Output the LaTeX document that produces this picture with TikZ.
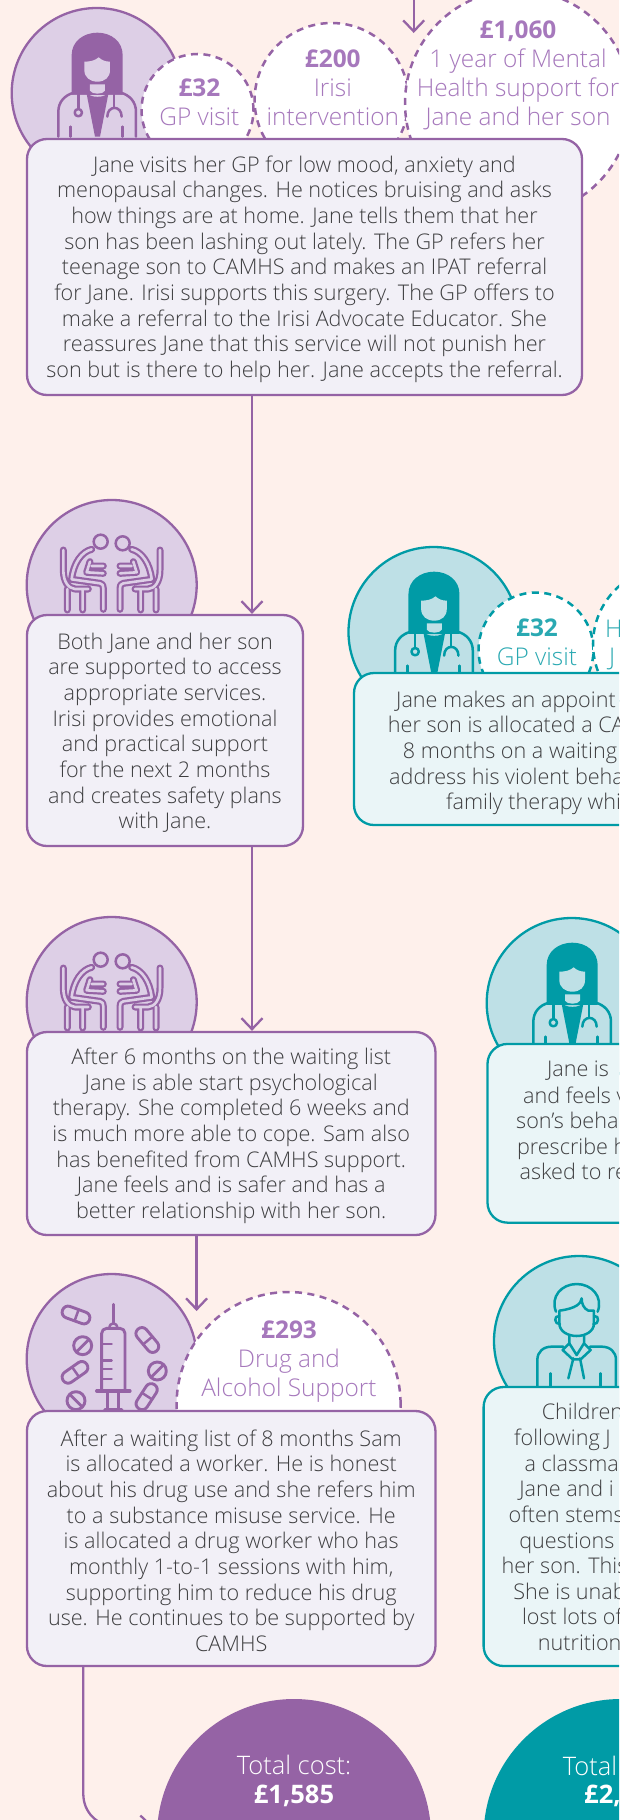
\documentclass[tikz,border=0pt]{standalone}
\usepackage{fontspec}
\setmainfont{Open Sans Light}[BoldFont={Open Sans Bold}]
\usetikzlibrary{arrows.meta}
\definecolor{bgc}{HTML}{FEF0EB}
\definecolor{pur}{HTML}{9563A5}
\definecolor{purL}{HTML}{DDCFE6}
\definecolor{purB}{HTML}{F2F0F7}
\definecolor{purT}{HTML}{A678BC}
\definecolor{tea}{HTML}{009BA6}
\definecolor{teaL}{HTML}{BEE0E6}
\definecolor{teaB}{HTML}{EAF5F7}
\definecolor{teaT}{HTML}{2AA9B2}
\definecolor{txt}{HTML}{3E3E40}
\newcommand{\btxt}{\fontsize{21.6}{25.67}\selectfont}
\newcommand{\ctxt}{\fontsize{24.4}{29}\selectfont}
\newcommand{\ttot}{\fontsize{25.5}{28.5}\selectfont}
\newcommand{\upr}{\rule{0pt}{21pt}}
\tikzset{
  lw/.style={line width=2.3pt},
  disc/.style={circle,draw,lw,minimum size=170pt,inner sep=0pt},
  bubble/.style={circle,draw,line width=2.5pt,fill=white,dash pattern=on 7pt off 5.5pt,inner sep=0pt},
  story/.style={rectangle,rounded corners=20pt,draw,lw,text=txt,font=\btxt,align=center,inner sep=0pt},
  pstory/.style={story,draw=pur,fill=purB},
  tstory/.style={story,draw=tea,fill=teaB},
  ptxt/.style={text=purT,font=\ctxt,align=center,inner sep=0pt},
  ttxt/.style={text=teaT,font=\ctxt,align=center,inner sep=0pt},
  cut/.style={anchor=base west,text=txt,font=\btxt,inner sep=0pt,yshift=-1pt},
  conn/.style={draw=pur,lw,-{Straight Barb[length=11pt,width=21pt,line width=2.3pt]},line cap=round},
  total/.style={circle,minimum size=274pt,inner sep=0pt},
  ic/.style={line width=2.5pt,line cap=round,line join=round},
  icb/.style={line width=2.9pt,line cap=round,line join=round},
}
\newcommand{\doctor}[4]{%
\begin{scope}[shift={(#1,#2)},x=0.3333pt,y=-0.3333pt]
 \fill[#3] (65,225) -- (65,105) .. controls (65,65) and (100,38) .. (142,38) .. controls (184,38) and (218,65) .. (218,105) -- (218,225) -- (65,225) -- cycle;
 \fill[#4] (103,125) -- (103,150) .. controls (103,172) and (120,185) .. (142,185) .. controls (165,185) and (180,172) .. (180,150) -- (180,125) .. controls (165,125) and (155,120) .. (146,112) .. controls (135,122) and (120,125) .. (103,125) -- cycle;
 \fill[#4] (120,193) -- (165,193) -- (165,212) .. controls (160,224) and (125,224) .. (120,212) -- cycle;
 \fill[#4] (65,225) -- (112,225) -- (135,350) -- (40,350) -- (40,260) -- cycle;
 \fill[#4] (218,225) -- (172,225) -- (150,350) -- (245,350) -- (245,260) -- cycle;
 \fill[#3] (110,222) -- (120,226) .. controls (130,232) and (155,232) .. (165,226) -- (175,222) -- (150,350) -- (135,350) -- cycle;
 \draw[#3,ic] (25,350) -- (25,275) .. controls (25,245) and (45,225) .. (72,218);
 \draw[#3,ic] (258,350) -- (258,275) .. controls (258,245) and (238,225) .. (212,218);
 \draw[#3,ic] (85,218) -- (85,265);
 \draw[#3,ic] (85,278) circle (11);
 \draw[#3,ic] (192,218) -- (192,262);
 \draw[#3,ic] (172,290) .. controls (172,255) and (215,255) .. (215,290);
 \draw[#3,ic] (62,320) -- (62,350);
 \draw[#3,ic] (218,320) -- (218,350);
\end{scope}}
\newcommand{\sitter}{%
 (40,90) -- (40,150) .. controls (40,185) and (55,205) .. (75,207) -- (115,207)
 (52,207) -- (52,270) (98,207) -- (98,270)
 (125,88) .. controls (95,95) and (70,130) .. (65,178) -- (150,190) .. controls (158,192) and (160,196) .. (160,205) -- (160,268)
 (120,125) -- (110,157) -- (160,160) (125,138) -- (160,138)}
\newcommand{\pairicon}[2]{%
\begin{scope}[shift={(#1,#2)},x=0.3333pt,y=-0.3333pt]
 \foreach \c/\w in {pur/7pt,purL/2.6pt}{%
  \draw[\c,line width=\w,line cap=round,line join=round] \sitter;
  \begin{scope}[xshift=123.33pt,xscale=-1]
   \draw[\c,line width=\w,line cap=round,line join=round] \sitter;
  \end{scope}}
 \draw[pur,ic] (152,65) circle (21);
 \draw[pur,ic] (218,70) circle (21);
\end{scope}}
\newcommand{\capsule}[3]{%
 \begin{scope}[shift={(#1,#2)},rotate=#3]
  \draw[pur,icb,rounded corners=5.8pt] (-43,-18) rectangle (43,18);
  \draw[pur,ic] (2,-18) -- (2,18);
 \end{scope}}
\newcommand{\tablet}[3]{%
 \draw[pur,icb] (#1,#2) circle (27);
 \draw[pur,icb,rotate around={#3:(#1,#2)}] (#1-24,#2) -- (#1+24,#2);}
\begin{document}
\begin{tikzpicture}[x=1pt,y=-1pt]
\useasboundingbox (0,0) rectangle (619,1820);
\fill[bgc] (0,0) rectangle (619,1820);
\clip (0,0) rectangle (619,1820);

% named anchors for connectors
\coordinate (topin) at (413.7,-6);
\coordinate (topend) at (413.7,33);
\coordinate (laneA) at (252,0);
\coordinate (laneB) at (196.6,0);
\coordinate (laneBend) at (196.6,1311);
\coordinate (laneCa) at (83.3,1794);
\coordinate (laneCb) at (115,1826);
\coordinate (laneCend) at (153,1826);

% ---- section 1
\node[disc,draw=pur,fill=purL] (d1) at (96.7,93) {};
\doctor{50}{20}{pur}{purL}
\node[bubble,draw=pur,minimum size=112pt] (b1) at (197.5,110) {};
\node[bubble,draw=pur,minimum size=154pt] (b2) at (331.6,100) {};
\node[bubble,draw=pur,minimum size=226pt] (b3) at (518,103) {};
\node[ptxt] (b1t) at (199.4,102.5) {\textbf{£32}\\GP visit};
\node[ptxt] (b2t) at (332.8,88) {\textbf{£200}\\Irisi\\intervention};
\node[ptxt] (b3t) at (518,75) {\textbf{£1,060}\\1 year of Mental\\Health support for\\Jane and her son};
\node[pstory,minimum width=555pt,minimum height=256pt] (s1) at (304.5,267) {\upr Jane visits her GP for low mood, anxiety and\\menopausal changes. He notices bruising and asks\\how things are at home. Jane tells them that her\\son has been lashing out lately. The GP refers her\\teenage son to CAMHS and makes an IPAT referral\\for Jane. Irisi supports this surgery. The GP offers to\\make a referral to the Irisi Advocate Educator. She\\reassures Jane that this service will not punish her\\son but is there to help her. Jane accepts the referral.};

% ---- section 2
\node[disc,draw=pur,fill=purL] (d2) at (111.7,585) {};
\pairicon{50}{520}
\node[pstory,minimum width=276pt,minimum height=231pt] (s2) at (165,730.5) {\upr Both Jane and her son\\are supported to access\\appropriate services.\\Irisi provides emotional\\and practical support\\for the next 2 months\\and creates safety plans\\with Jane.};

\node[disc,draw=tea,fill=teaL] (d5) at (433.5,632) {};
\doctor{386.8}{559}{tea}{teaL}
\node[bubble,draw=tea,minimum size=115pt] (b5) at (536,650) {};
\node[bubble,draw=tea,minimum size=154pt] (b6) at (670,644) {};
\node[ttxt] (b5t) at (537,642.5) {\textbf{£32}\\GP visit};
\node[anchor=base west,text=teaT,font=\ctxt,inner sep=0pt] (b6a) at (605,637) {H};
\node[anchor=base west,text=teaT,font=\ctxt,inner sep=0pt] (b6b) at (609,665) {J};
\node[tstory,minimum width=400pt,minimum height=152pt] (s5) at (554,749) {};
\node[cut] (s5a) at (396,706) {Jane makes an appoint};
\node[cut] (s5b) at (387.7,731.5) {her son is allocated a CA};
\node[cut] (s5c) at (402.7,757) {8 months on a waiting};
\node[cut] (s5d) at (389,783) {address his violent beha};
\node[cut] (s5e) at (446,808.5) {family therapy whi};

% ---- section 3
\node[disc,draw=pur,fill=purL] (d3) at (111.7,1002) {};
\pairicon{50}{938}
\node[pstory,minimum width=408.5pt,minimum height=203pt] (s3) at (231.2,1133.5) {\upr After 6 months on the waiting list\\Jane is able start psychological\\therapy. She completed 6 weeks and\\is much more able to cope. Sam also\\has benefited from CAMHS support.\\Jane feels and is safer and has a\\better relationship with her son.};

\node[disc,draw=tea,fill=teaL] (d6) at (571.7,1003) {};
\doctor{525}{930}{tea}{teaL}
\node[tstory,minimum width=300pt,minimum height=178.7pt] (s6) at (637.5,1133.3) {};
\node[cut] (s6a) at (546.8,1075) {Jane is};
\node[cut] (s6b) at (523,1102) {and feels v};
\node[cut] (s6c) at (516,1127) {son’s beha};
\node[cut] (s6d) at (516.8,1153) {prescribe h};
\node[cut] (s6e) at (519.5,1178) {asked to re};

% ---- section 4
\node[disc,draw=pur,fill=purL] (d4) at (111.7,1359) {};
\begin{scope}[shift={(50,1295)},x=0.3333pt,y=-0.3333pt]
 \draw[pur,icb] (190,28) -- (190,85);
 \draw[pur,ic] (178,100) .. controls (178,80) and (202,80) .. (202,100);
 \draw[pur,icb,rounded corners=5pt] (155,288) -- (155,100) -- (225,100) -- (225,288);
 \foreach \yy in {147,197,222,252} \draw[pur,ic] (155,\yy) -- (185,\yy);
 \draw[pur,line width=3.2pt,line cap=round] (140,288) -- (240,288);
 \draw[pur,icb] (172,288) -- (172,342);
 \draw[pur,icb] (205,288) -- (205,342);
 \draw[pur,line width=3.5pt,line cap=round] (165,343) -- (215,343);
 \capsule{78}{60}{-20}
 \capsule{292}{135}{-50}
 \capsule{75}{232}{35}
 \capsule{290}{305}{57}
 \tablet{98}{152}{45}
 \tablet{322}{228}{45}
 \tablet{78}{317}{-45}
\end{scope}
\node[bubble,draw=pur,minimum size=224pt] (b4) at (288.6,1404) {};
\node[ptxt] (b4t) at (289,1362) {\textbf{£293}\\Drug and\\Alcohol Support};
\node[pstory,minimum width=408.5pt,minimum height=255pt] (s4) at (231.2,1538.5) {\upr After a waiting list of 8 months Sam\\is allocated a worker. He is honest\\about his drug use and she refers him\\to a substance misuse service. He\\is allocated a drug worker who has\\monthly 1-to-1 sessions with him,\\supporting him to reduce his drug\\use. He continues to be supported by\\CAMHS};

\node[disc,draw=tea,fill=teaL] (d7) at (579,1341) {};
\begin{scope}[shift={(520,1280)},x=0.3333pt,y=-0.3333pt]
 \begin{scope}[tea,ic]
 \draw (108,95) .. controls (90,50) and (125,12) .. (170,12) .. controls (215,12) and (250,50) .. (233,95);
 \draw (118,92) -- (118,130) .. controls (118,155) and (145,168) .. (170,168) .. controls (195,168) and (222,155) .. (222,130) -- (222,92) -- (205,92) .. controls (190,85) and (185,70) .. (185,55) .. controls (183,70) and (170,85) .. (118,92);
 \draw (118,108) .. controls (100,105) and (103,135) .. (120,132);
 \draw (222,108) .. controls (240,105) and (237,135) .. (220,132);
 \draw (148,168) -- (148,190) -- (128,210) -- (158,238) -- (182,238) -- (212,210) -- (192,190) -- (192,168);
 \draw (148,190) -- (170,225) -- (192,190);
 \draw (160,235) -- (145,295);
 \draw (180,235) -- (192,295);
 \draw (52,325) -- (52,240) .. controls (52,215) and (70,200) .. (95,200) -- (130,200);
 \draw (210,200) -- (245,200) .. controls (270,200) and (288,215) .. (288,240) -- (288,325);
 \draw (92,280) -- (92,325);
 \draw (242,280) -- (242,325);
 \end{scope}
\end{scope}
\node[tstory,minimum width=300pt,minimum height=279pt] (s7) at (633.6,1526.5) {};
\node[cut] (s7a) at (541.6,1418.7) {Children};
\node[cut] (s7b) at (514,1444.7) {following J};
\node[cut] (s7c) at (524.3,1470.4) {a classma};
\node[cut] (s7d) at (519.1,1495.8) {Jane and i};
\node[cut] (s7e) at (508.5,1521.8) {often stems};
\node[cut] (s7f) at (519.1,1547.2) {questions};
\node[cut] (s7g) at (501.4,1572.5) {her son. This};
\node[cut] (s7h) at (513.2,1598.2) {She is unab};
\node[cut] (s7i) at (521.9,1623.9) {lost lots of};
\node[cut] (s7j) at (537.7,1649.9) {nutrition};

% ---- totals
\node[total,fill=pur] (tot1) at (294,1836) {};
\node[total,fill=tea] (tot2) at (620.6,1836) {};
\node[text=white,font=\ttot,align=center,inner sep=0pt] (tot1t) at (294,1781) {Total cost:\\\textbf{£1,585}};
\node[anchor=base west,text=white,font=\ttot,inner sep=0pt] (tot2a) at (562.6,1775) {Total};
\node[anchor=base west,text=white,font=\ttot,inner sep=0pt] (tot2b) at (584,1803) {\textbf{£2,}};

% ---- connectors
\draw[conn] (topin) -- (topend);
\draw[conn] (laneA |- s1.south) -- (laneA |- s2.north);
\draw[conn] (laneA |- s2.south) -- (laneA |- s3.north);
\draw[conn] (laneB |- s3.south) -- (laneBend);
\draw[conn] (laneCa |- s4.south) -- (laneCa) .. controls (83.3,1812) and (97,1826) .. (laneCb) -- (laneCend);
\end{tikzpicture}
\end{document}
